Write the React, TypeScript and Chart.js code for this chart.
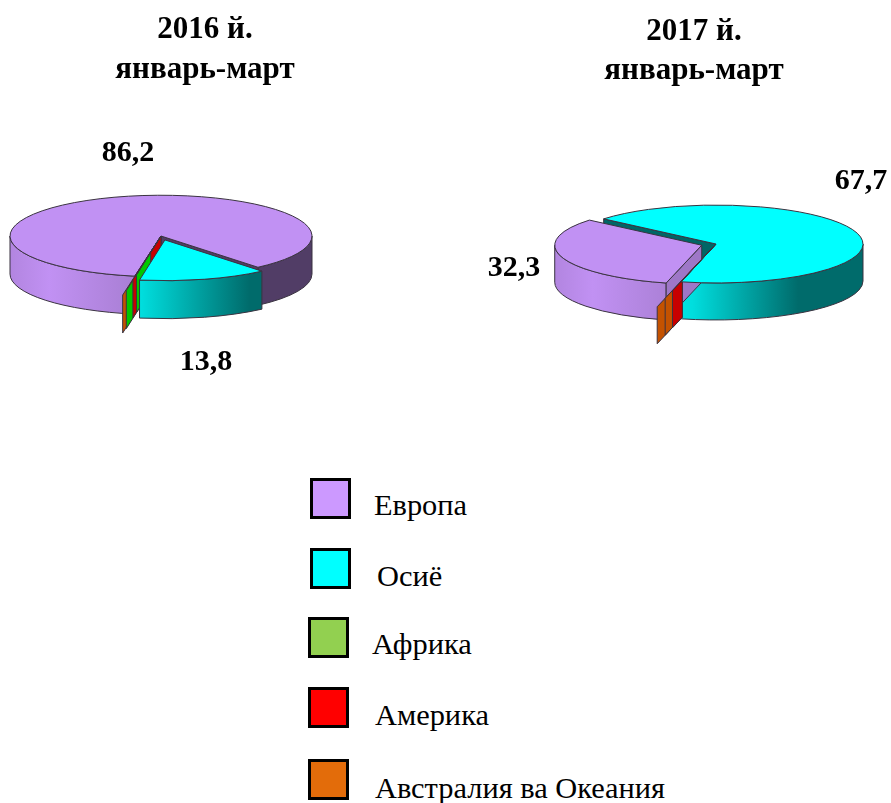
import React, { useEffect, useRef } from "react";
import { Chart, registerables } from "chart.js";

Chart.register(...registerables);

const categories = ["Европа", "Осиё", "Африка", "Америка", "Австралия ва Океания"];
const values2016 = [86.2, 13.8, 0.03, 0.03, 0.03];
const values2017 = [32.3, 67.7, 0.03, 0.03, 0.03];
const valueLabels2016 = ["86,2", "13,8"];
const valueLabels2017 = ["32,3", "67,7"];
const titleLines2016 = ["2016 й.", "январь-март"];
const titleLines2017 = ["2017 й.", "январь-март"];
const sliceColors = ["#c191f3", "#00ffff", "#92d050", "#ff0000", "#e36c0a"];
const legendColors = ["#cc99ff", "#00ffff", "#92d050", "#ff0000", "#e36c0a"];
const wallColors = ["#c191f3", "#00ffff", "#00c800", "#c80000", "#c45200"];

const FONT = '"Liberation Serif", "Times New Roman", serif';
const OUTLINE = "#3a3340";
const H = 420;

type Pt = { x: number; y: number; text: string };
type PieSpec = {
  values: number[];
  rotation: number;
  radius: number;
  cx: number;
  cy: number;
  squash: number;
  depth: number;
  explode: number[];
  bands: [number, number, number][];
  paint: string[];
  tops: number[];
  cutShade: Record<string, number>;
  texts: Pt[];
  titles: Pt[];
  left: number;
  width: number;
};

const shadeStops: [number, number][] = [
  [0, 0.92],
  [0.13, 1],
  [0.42, 0.87],
  [0.78, 0.42],
  [1, 0.42],
];

function rgb(hex: string, k: number) {
  const n = parseInt(hex.slice(1), 16);
  const c = [(n >> 16) & 255, (n >> 8) & 255, n & 255].map((v) => Math.round(v * k));
  return `rgb(${c[0]},${c[1]},${c[2]})`;
}

const pie3d = {
  id: "pie3d",
  beforeDatasetsDraw(chart: any, _args: any, spec: PieSpec) {
    const ctx: CanvasRenderingContext2D = chart.ctx;
    const arcs: any[] = chart.getDatasetMeta(0).data;
    const sq = spec.squash;
    const d = spec.depth;

    const centre = (i: number) => {
      const a = arcs[i];
      const mid = (a.startAngle + a.endAngle) / 2;
      const e = spec.explode[i] || 0;
      return { x: a.x + Math.cos(mid) * e, y: a.y + Math.sin(mid) * e * sq };
    };

    const arcPath = (x: number, y: number, r: number, s: number, e: number, ccw = false) => {
      ctx.save();
      ctx.translate(x, y);
      ctx.scale(1, sq);
      ctx.arc(0, 0, r, s, e, ccw);
      ctx.restore();
    };

    const side = (i: number) => {
      const a = arcs[i];
      const c = centre(i);
      const r = a.outerRadius;
      const g = ctx.createLinearGradient(c.x - r, 0, c.x + r, 0);
      const col = sliceColors[i];
      shadeStops.forEach(([t, k]) => g.addColorStop(t, rgb(col, k)));
      for (let k = -1; k < 3; k++) {
        const lo = Math.max(a.startAngle, k * 2 * Math.PI);
        const hi = Math.min(a.endAngle, k * 2 * Math.PI + Math.PI);
        if (hi <= lo) continue;
        ctx.beginPath();
        arcPath(c.x, c.y, r, lo, hi);
        arcPath(c.x, c.y + d, r, hi, lo, true);
        ctx.closePath();
        ctx.fillStyle = g;
        ctx.fill();
        ctx.strokeStyle = OUTLINE;
        ctx.lineWidth = 1;
        ctx.stroke();
      }
    };

    const face = (
      c: { x: number; y: number },
      ang: number,
      r0: number,
      r1: number,
      fill: string
    ) => {
      const x0 = c.x + Math.cos(ang) * r0;
      const y0 = c.y + Math.sin(ang) * r0 * sq;
      const x1 = c.x + Math.cos(ang) * r1;
      const y1 = c.y + Math.sin(ang) * r1 * sq;
      ctx.beginPath();
      ctx.moveTo(x0, y0);
      ctx.lineTo(x1, y1);
      ctx.lineTo(x1, y1 + d);
      ctx.lineTo(x0, y0 + d);
      ctx.closePath();
      ctx.fillStyle = fill;
      ctx.fill();
      ctx.strokeStyle = OUTLINE;
      ctx.lineWidth = 1;
      ctx.stroke();
    };

    const cut = (i: number) => {
      const a = arcs[i];
      const c = centre(i);
      const k = spec.cutShade[String(i)] ?? 0.42;
      const faces: number[] = [];
      if (-Math.cos(a.startAngle) > 0) faces.push(a.startAngle);
      if (Math.cos(a.endAngle) > 0) faces.push(a.endAngle);
      faces.forEach((f) => face(c, f, 0, a.outerRadius, rgb(sliceColors[i], k)));
    };

    const walls = () => {
      spec.bands.forEach(([i, inner, outer]) => {
        const a = arcs[i];
        face(
          { x: a.x, y: a.y },
          (a.startAngle + a.endAngle) / 2,
          a.outerRadius * inner,
          a.outerRadius * outer,
          wallColors[i]
        );
      });
    };

    spec.paint.forEach((step) => {
      const [kind, idx] = step.split(":");
      if (kind === "side") side(Number(idx));
      if (kind === "cut") cut(Number(idx));
      if (kind === "walls") walls();
    });

    spec.tops.forEach((i) => {
      const a = arcs[i];
      const c = centre(i);
      ctx.save();
      ctx.translate(c.x, c.y);
      ctx.scale(1, sq);
      ctx.translate(-a.x, -a.y);
      a.draw(ctx);
      ctx.restore();
      ctx.beginPath();
      ctx.moveTo(c.x, c.y);
      arcPath(c.x, c.y, a.outerRadius, a.startAngle, a.endAngle);
      ctx.closePath();
      ctx.strokeStyle = OUTLINE;
      ctx.lineWidth = 1;
      ctx.stroke();
    });
    return false;
  },
  afterDraw(chart: any, _args: any, spec: PieSpec) {
    const ctx: CanvasRenderingContext2D = chart.ctx;
    ctx.save();
    ctx.fillStyle = "#000";
    ctx.textAlign = "center";
    ctx.textBaseline = "middle";
    ctx.font = `bold 31px ${FONT}`;
    spec.titles.forEach((t) => ctx.fillText(t.text, t.x, t.y));
    ctx.font = `bold 30px ${FONT}`;
    spec.texts.forEach((t) => ctx.fillText(t.text, t.x, t.y));
    ctx.restore();
  },
};

const spec2016: PieSpec = {
  values: values2016,
  rotation: 190,
  radius: 151,
  cx: 161,
  cy: 236,
  squash: 0.27,
  depth: 38,
  explode: [0, 15, 0, 0, 0],
  bands: [
    [4, 0, 1.47],
    [2, 0, 1.36],
    [3, 0, 1.09],
    [2, 0, 0.96],
    [3, 0, 0.4],
  ],
  paint: ["side:0", "cut:0", "walls", "side:1", "cut:1"],
  tops: [0, 2, 3, 4, 1],
  cutShade: { "0": 0.42, "1": 0.42 },
  left: 0,
  width: 445,
  titles: [
    { text: titleLines2016[0], x: 205, y: 30 },
    { text: titleLines2016[1], x: 205, y: 70 },
  ],
  texts: [
    { text: valueLabels2016[0], x: 128, y: 153 },
    { text: valueLabels2016[1], x: 206, y: 362 },
  ],
};

const spec2017: PieSpec = {
  values: values2017,
  rotation: 194,
  radius: 147,
  cx: 716 - 445,
  cy: 244,
  squash: 0.265,
  depth: 37,
  explode: [15, 0, 0, 0, 0],
  bands: [
    [4, 0.957, 1.66],
    [4, 0.957, 1.435],
    [3, 0.957, 1.238],
  ],
  paint: ["side:1", "cut:1", "side:0", "cut:0", "walls"],
  tops: [1, 2, 3, 4, 0],
  cutShade: { "0": 0.82, "1": 0.4 },
  left: 445,
  width: 446,
  titles: [
    { text: titleLines2017[0], x: 694 - 445, y: 32 },
    { text: titleLines2017[1], x: 694 - 445, y: 71 },
  ],
  texts: [
    { text: valueLabels2017[0], x: 514 - 445, y: 268 },
    { text: valueLabels2017[1], x: 861 - 445, y: 181 },
  ],
};

function Pie({ spec }: { spec: PieSpec }) {
  const ref = useRef<HTMLCanvasElement>(null);
  useEffect(() => {
    const chart = new Chart(ref.current as HTMLCanvasElement, {
      type: "pie",
      data: {
        labels: categories,
        datasets: [{ data: spec.values, backgroundColor: sliceColors, borderWidth: 0 }],
      },
      options: {
        responsive: false,
        animation: false,
        rotation: spec.rotation,
        radius: spec.radius,
        layout: {
          padding: {
            left: Math.max(2 * spec.cx - spec.width, 0),
            top: Math.max(2 * spec.cy - H, 0),
            right: Math.max(spec.width - 2 * spec.cx, 0),
            bottom: Math.max(H - 2 * spec.cy, 0),
          },
        },
        plugins: {
          legend: { display: false },
          tooltip: { enabled: false },
          title: { display: false },
          pie3d: spec,
        },
      } as any,
      plugins: [pie3d],
    });
    return () => chart.destroy();
  }, [spec]);
  return (
    <canvas
      ref={ref}
      width={spec.width}
      height={H}
      style={{ position: "absolute", left: spec.left, top: 0 }}
    />
  );
}

const legendBoxes = [
  { x: 310, y: 478 },
  { x: 310, y: 548 },
  { x: 308, y: 617 },
  { x: 308, y: 687 },
  { x: 308, y: 759 },
];
const legendTexts = [
  { x: 374, y: 505 },
  { x: 377, y: 576 },
  { x: 372, y: 644 },
  { x: 375, y: 715 },
  { x: 375, y: 788 },
];

export default function App() {
  return (
    <div
      style={{
        position: "absolute",
        left: 0,
        top: 0,
        width: 891,
        height: 803,
        overflow: "hidden",
        background: "#fff",
        fontFamily: FONT,
      }}
    >
      <Pie spec={spec2016} />
      <Pie spec={spec2017} />
      {categories.map((c, i) => (
        <React.Fragment key={c}>
          <div
            style={{
              position: "absolute",
              left: legendBoxes[i].x,
              top: legendBoxes[i].y,
              width: 41,
              height: 41,
              boxSizing: "border-box",
              border: "3px solid #000",
              background: legendColors[i],
            }}
          />
          <div
            style={{
              position: "absolute",
              left: legendTexts[i].x,
              top: legendTexts[i].y - 20,
              height: 40,
              lineHeight: "40px",
              fontSize: 30.4,
              color: "#000",
              whiteSpace: "nowrap",
            }}
          >
            {c}
          </div>
        </React.Fragment>
      ))}
    </div>
  );
}
